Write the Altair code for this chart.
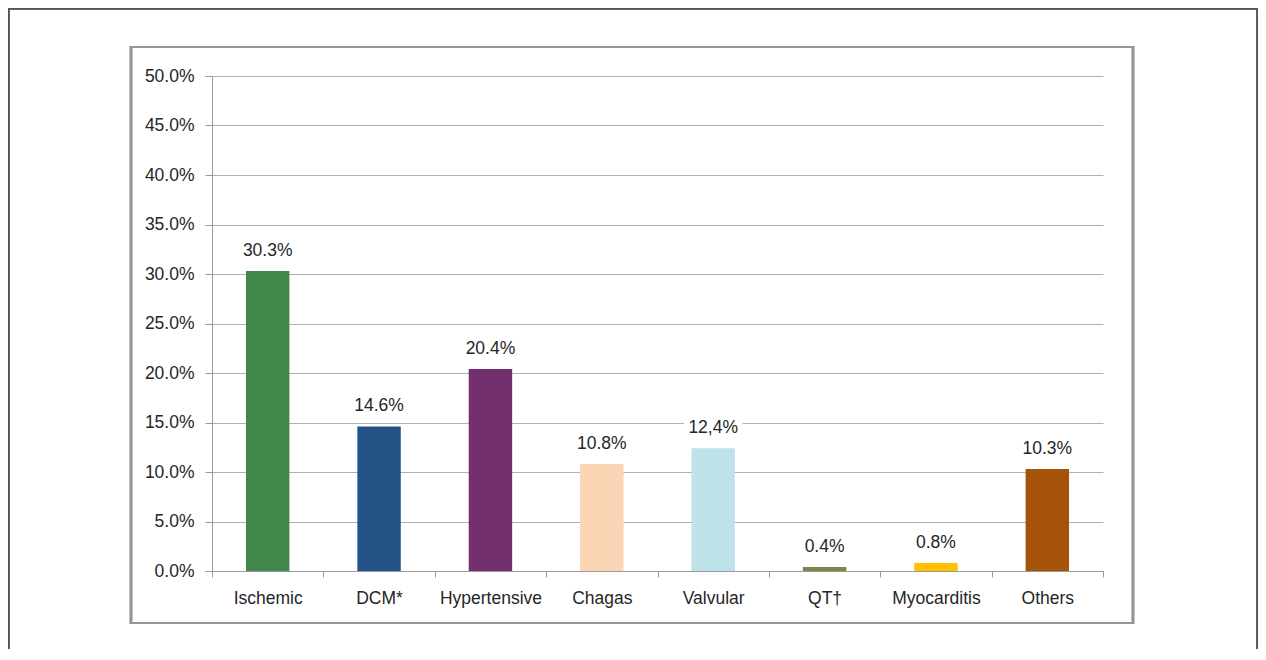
import altair as alt
import pandas as pd

categories = ["Ischemic", "DCM*", "Hypertensive", "Chagas", "Valvular", "QT\u2020", "Myocarditis", "Others"]
values = [0.303, 0.146, 0.204, 0.108, 0.124, 0.004, 0.008, 0.103]
labels = ["30.3%", "14.6%", "20.4%", "10.8%", "12,4%", "0.4%", "0.8%", "10.3%"]
colors = ["#41864a", "#245487", "#742f6e", "#fcd5b5", "#bde2ea", "#77894a", "#ffc000", "#a5530a"]
y_ticks = [0, 0.05, 0.1, 0.15, 0.2, 0.25, 0.3, 0.35, 0.4, 0.45, 0.5]

df = pd.DataFrame({"cat": categories, "val": values, "lab": labels, "col": colors})

FONT = "Liberation Sans"
FS = 17.5
TXT = "#262626"
GRID = "#b0b0b0"

W, H = 891, 495

x_enc = alt.X("cat:N", sort=categories, title=None,
              scale=alt.Scale(paddingInner=0, paddingOuter=0),
              axis=alt.Axis(labelAngle=0, labelFont=FONT, labelFontSize=FS, labelColor=TXT,
                            tickBand="extent", tickSize=6, tickColor="#9a9a9a",
                            domainColor="#9a9a9a", labelPadding=12, grid=False))
y_enc = alt.Y("val:Q", title=None,
              scale=alt.Scale(domain=[0, 0.5], nice=False),
              axis=alt.Axis(values=y_ticks, format=".1%", labelFont=FONT, labelFontSize=FS,
                            labelColor=TXT, tickSize=7, tickColor="#9a9a9a", domainColor="#9a9a9a",
                            labelPadding=11, grid=True, gridColor=GRID, gridWidth=1))

base = alt.Chart(df)

outer = base.mark_rect(fill=None, stroke="#555555", strokeWidth=1.5).encode(
    x=alt.value(-203.5), x2=alt.value(1045.5), y=alt.value(-67.5), y2=alt.value(700))
inner = base.mark_rect(fill=None, stroke="#959595", strokeWidth=2.2).encode(
    x=alt.value(-81), x2=alt.value(921), y=alt.value(-29), y2=alt.value(547))

bars = base.mark_bar(width=alt.RelativeBandSize(0.39)).encode(
    x=x_enc, y=y_enc,
    color=alt.Color("col:N", scale=None))

halo = base.mark_text(baseline="alphabetic", dy=-15, font=FONT, fontSize=FS,
                      color="white", stroke="white", strokeWidth=12, strokeJoin="round").encode(
    x=alt.X("cat:N", sort=categories), y="val:Q", text="lab:N")
text = base.mark_text(baseline="alphabetic", dy=-15, font=FONT, fontSize=FS, color=TXT).encode(
    x=alt.X("cat:N", sort=categories), y="val:Q", text="lab:N")

chart = alt.layer(outer, inner, bars, halo, text).properties(
    width=W, height=H,
    autosize=alt.AutoSizeParams(type="none"),
    padding={"left": 204, "top": 68, "right": 155, "bottom": 78},
    background="white",
).configure_view(stroke=None)

chart.save("out.html", embed_options={"renderer": "svg", "actions": False})
